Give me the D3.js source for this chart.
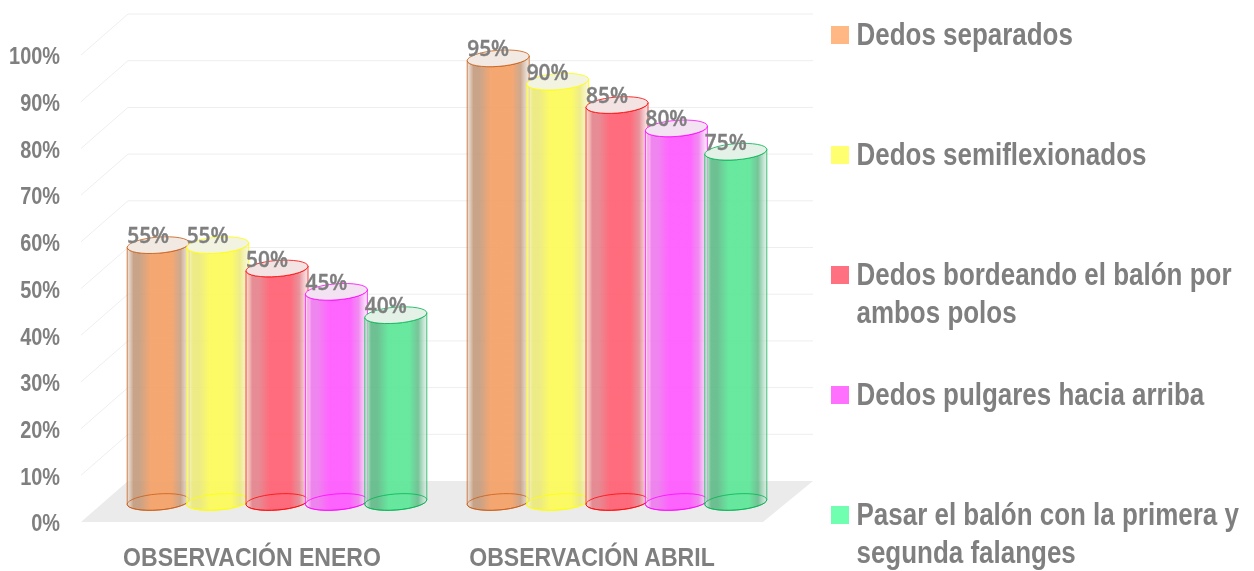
<!DOCTYPE html>
<html>
<head>
    <meta charset="utf-8">
    <title>Observación</title>
    <script src="https://cdn.jsdelivr.net/npm/d3@7"></script>
    <style>
        html, body { margin: 0; padding: 0; background: #fff; }
        svg { display: block; filter: blur(0.4px); }
        text { font-family: "Liberation Sans", Arial, sans-serif; font-weight: bold; fill: #7f7f7f; }
    </style>
</head>
<body>
<script>
    var width = 1254, height = 571;

    var categories = ["OBSERVACIÓN ENERO", "OBSERVACIÓN ABRIL"];
    var seriesNames = ["Dedos separados", "Dedos semiflexionados", "Dedos bordeando el balón por ambos polos", "Dedos pulgares hacia arriba", "Pasar el balón con la primera y segunda falanges"];
    var enero = [55, 55, 50, 45, 40];
    var abril = [95, 90, 85, 80, 75];
    var yTicks = [0, 10, 20, 30, 40, 50, 60, 70, 80, 90, 100];
    var barColors = ["#f5a066", "#fdfb58", "#ff6072", "#ff58ff", "#5ce698"];
    var edgeColors = ["#c55a11", "#ffff00", "#ff0000", "#ff00ff", "#00b050"];
    var shadeColors = ["#c49a7c", "#ebe978", "#e4808a", "#ee78ee", "#5eba86"];
    var rimColors = ["#e8dcd2", "#f4f4c0", "#f8dcdc", "#fbe0fb", "#d5eadf"];
    var swatchColors = ["#ffb883", "#ffff70", "#ff7080", "#ff70ff", "#70ffb0"];
    var legendLines = [["Dedos separados"], ["Dedos semiflexionados"], ["Dedos bordeando el balón por", "ambos polos"], ["Dedos pulgares hacia arriba"], ["Pasar el balón con la primera y", "segunda falanges"]];

    var squeeze = 0.83;   // el texto original esta algo estrecho
    var depthBar = 20, depthBack = 41, skew = 47;
    var rx = 31, ry = 8, tilt = -4.5;
    var tiltDy = rx * Math.sin(-tilt * Math.PI / 180);

    var y = d3.scaleLinear().domain([0, 100]).range([522, 55]);
    var x0 = d3.scaleBand().domain(categories).range([107, 787]);
    var x1 = d3.scaleBand().domain(d3.range(5)).range([-148.5, 148.5]);
    var legendY = d3.scaleBand().domain(d3.range(5)).range([-25, 575]);

    var svg = d3.select("body").append("svg").attr("width", width).attr("height", height);
    var defs = svg.append("defs");

    // degradado horizontal de cada cilindro
    barColors.forEach(function (c, i) {
        var g = defs.append("linearGradient").attr("id", "cyl" + i);
        [[0, rimColors[i], 0.7], [0.1, shadeColors[i], 0.9], [0.2, shadeColors[i], 0.9], [0.38, c, 0.92], [0.72, c, 0.92],
            [0.86, shadeColors[i], 0.85], [1, rimColors[i], 0.6]].forEach(function (s) {
            g.append("stop").attr("offset", s[0]).attr("stop-color", s[1]).attr("stop-opacity", s[2]);
        });
    });

    // suelo
    svg.append("polygon")
        .attr("points", [[81, y(0)], [763, y(0)], [813, y(0) - depthBack], [128, y(0) - depthBack]].join(" "))
        .attr("fill", "#ebebeb");

    // lineas de fondo y de la pared izquierda
    svg.selectAll(".grid").data(yTicks.slice(1)).enter().append("line")
        .attr("class", "grid")
        .attr("x1", 128).attr("x2", 813)
        .attr("y1", function (d) { return y(d) - depthBack; })
        .attr("y2", function (d) { return y(d) - depthBack; })
        .attr("stroke", "#eeeeee").attr("stroke-width", 1);
    svg.selectAll(".side").data(yTicks.slice(1)).enter().append("line")
        .attr("class", "side")
        .attr("x1", 128 - skew).attr("x2", 128)
        .attr("y1", function (d) { return y(d); })
        .attr("y2", function (d) { return y(d) - depthBack; })
        .attr("stroke", "#eeeeee").attr("stroke-width", 1);

    // eje y
    var axis = svg.append("g").attr("transform", "translate(60,0)")
        .call(d3.axisLeft(y).tickValues(yTicks).tickSize(0).tickPadding(0).tickFormat(function (d) { return d + "%"; }));
    axis.select(".domain").remove();
    axis.selectAll("text")
        .attr("font-family", null).attr("dy", "0.37em")
        .attr("transform", "scale(" + squeeze + ",1)")
        .style("font-size", "24px");

    // cilindros
    var rows = [];
    categories.forEach(function (cat, c) {
        (c === 0 ? enero : abril).forEach(function (v, i) {
            rows.push({cat: cat, s: i, v: v});
        });
    });
    function cx(d) { return x0(d.cat) + x0.bandwidth() / 2 + x1(d.s) + x1.bandwidth() / 2; }
    function baseY() { return y(0) - depthBar; }
    function topY(d) { return y(d.v) - depthBar; }
    function ell(d, yy) {
        return "M" + (cx(d) - rx) + "," + (yy + tiltDy) +
            "A" + rx + "," + ry + " " + tilt + " 1 1 " + (cx(d) + rx) + "," + (yy - tiltDy) +
            "A" + rx + "," + ry + " " + tilt + " 1 1 " + (cx(d) - rx) + "," + (yy + tiltDy) + "Z";
    }
    function body(d) {
        return "M" + (cx(d) - rx) + "," + (topY(d) + tiltDy) +
            "L" + (cx(d) - rx) + "," + (baseY() + tiltDy) +
            "A" + rx + "," + ry + " " + tilt + " 0 0 " + (cx(d) + rx) + "," + (baseY() - tiltDy) +
            "L" + (cx(d) + rx) + "," + (topY(d) - tiltDy) +
            "A" + rx + "," + ry + " " + tilt + " 0 1 " + (cx(d) - rx) + "," + (topY(d) + tiltDy) + "Z";
    }

    var bars = svg.selectAll(".bar").data(rows).enter().append("g").attr("class", "bar");
    bars.append("path").attr("d", body)
        .attr("fill", function (d) { return "url(#cyl" + d.s + ")"; })
        .attr("stroke", function (d) { return edgeColors[d.s]; }).attr("stroke-width", 1).attr("stroke-opacity", 0.75);
    bars.append("path").attr("d", function (d) { return ell(d, baseY()); })
        .attr("fill", "none")
        .attr("stroke", function (d) { return edgeColors[d.s]; }).attr("stroke-width", 1).attr("stroke-opacity", 0.75);
    bars.append("path").attr("d", function (d) { return ell(d, topY(d)); })
        .attr("fill", function (d) { return d3.interpolateRgb(barColors[d.s], "#f2f2f0")(0.9); })
        .attr("stroke", function (d) { return edgeColors[d.s]; }).attr("stroke-width", 1).attr("stroke-opacity", 0.8);

    // etiquetas de datos
    svg.selectAll(".lab").data(rows).enter().append("text")
        .attr("class", "lab")
        .attr("text-anchor", "middle")
        .attr("transform", function (d) { return "translate(" + (cx(d) - 10) + "," + (topY(d) - 2) + ") scale(0.95,1)"; })
        .style("font-family", "'Open Sans'").style("font-weight", 600).style("font-size", "22px")
        .style("stroke", "#7f7f7f").style("stroke-width", 0.4)
        .text(function (d) { return d.v + "%"; });

    // categorias
    svg.selectAll(".cat").data(categories).enter().append("text")
        .attr("class", "cat")
        .attr("text-anchor", "middle")
        .attr("transform", function (d, i) { return "translate(" + (i === 0 ? 252 : 592) + ",566) scale(0.87,1)"; })
        .style("font-size", "26.5px")
        .text(function (d) { return d; });

    // leyenda
    var legend = svg.selectAll(".leg").data(seriesNames).enter().append("g")
        .attr("class", "leg")
        .attr("transform", function (d, i) { return "translate(831," + legendY(i) + ")"; });
    legend.append("rect").attr("y", 51).attr("width", 18).attr("height", 18)
        .attr("fill", function (d, i) { return swatchColors[i]; });
    legend.each(function (d, i) {
        d3.select(this).selectAll("text").data(legendLines[i]).enter().append("text")
            .attr("transform", function (t, k) { return "translate(25.5," + (70 + k * 38) + ") scale(0.838,1)"; })
            .style("font-size", "31px")
            .text(function (t) { return t; });
    });
</script>
</body>
</html>
